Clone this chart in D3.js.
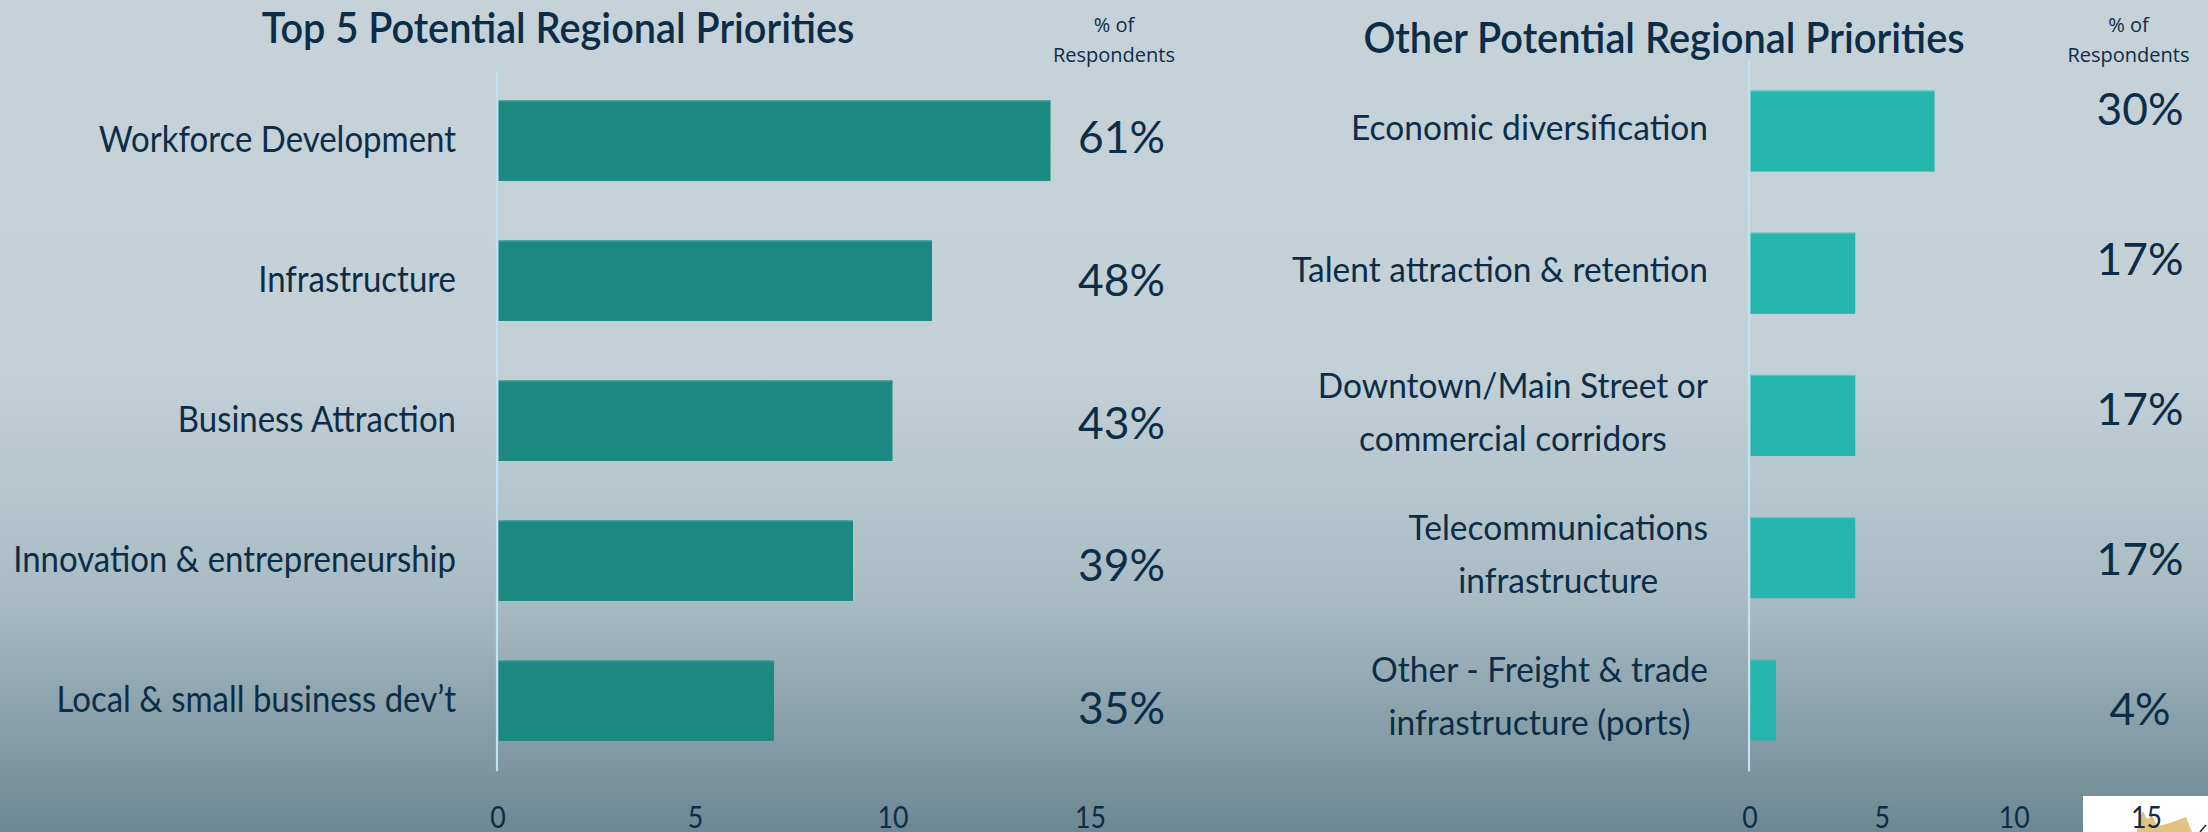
<!DOCTYPE html>
<html>
<head>
<meta charset="utf-8">
<script src="https://cdn.jsdelivr.net/npm/d3@7"></script>
<style>
  html, body { margin: 0; padding: 0; overflow: hidden; }
  svg { display: block; }
</style>
</head>
<body>
<svg id="chart" width="2208" height="832"></svg>
<script>
// ---------------- DATA ----------------
const leftTitle = "Top 5 Potential Regional Priorities";
const rightTitle = "Other Potential Regional Priorities";
const respLabel = ["% of", "Respondents"];

const leftCategories = [
  ["Workforce Development"],
  ["Infrastructure"],
  ["Business Attraction"],
  ["Innovation & entrepreneurship"],
  ["Local & small business dev\u2019t"]
];
const leftValues = [14, 11, 10, 9, 7];
const leftPct = ["61%", "48%", "43%", "39%", "35%"];

const rightCategories = [
  ["Economic diversification"],
  ["Talent attraction & retention"],
  ["Downtown/Main Street or", "commercial corridors"],
  ["Telecommunications", "infrastructure"],
  ["Other - Freight & trade", "infrastructure (ports)"]
];
const rightValues = [7, 4, 4, 4, 1];
const rightPct = ["30%", "17%", "17%", "17%", "4%"];

const xTicks = [0, 5, 10, 15];

// ---------------- SETUP ----------------
const W = 2208, H = 832;
const svg = d3.select("#chart");
const ink = "#0c2d48";
const FONT = "Lato, 'Open Sans', sans-serif";

const defs = svg.append("defs");
const grad = defs.append("linearGradient").attr("id", "bg").attr("x1", 0).attr("y1", 0).attr("x2", 0).attr("y2", 1);
[[0, "#c5d2d8"], [0.44, "#c3d1d7"], [0.72, "#a8bbc3"], [1, "#6c8894"]].forEach(s =>
  grad.append("stop").attr("offset", s[0]).attr("stop-color", s[1]));
svg.append("rect").attr("width", W).attr("height", H).attr("fill", "url(#bg)");

function measure(str, font) {
  const t = svg.append("text").style("font", font).text(str);
  const w = t.node().getComputedTextLength();
  t.remove();
  return w;
}

const fLabel = `400 36px ${FONT}`;
const fLabelR = `400 34px ${FONT}`;
const fTitle = `700 42px ${FONT}`;
const fPct = `400 44px ${FONT}`;
const fTick = `400 30px ${FONT}`;
const fResp = `400 20px 'Open Sans', sans-serif`;

const kLabel = 443 / measure("Innovation & entrepreneurship", fLabel);
const kLabelR = 416 / measure("Talent attraction & retention", fLabelR);
const kTitleL = 598 / measure(leftTitle, fTitle);
const kTitleR = 607 / measure(rightTitle, fTitle);
const kPct = 87 / measure("48%", fPct);
const kTick = 31 / measure("10", fTick);

function scaledText(g, str, x, y, font, k, anchor) {
  return g.append("text")
    .attr("transform", `translate(${x},${y}) scale(${k},1)`)
    .attr("text-anchor", anchor)
    .style("font", font)
    .attr("fill", ink)
    .text(str);
}

// ---------------- PANELS ----------------
function panel(cfg) {
  const g = svg.append("g");
  const names = cfg.categories.map(c => c.join(" "));
  const x = d3.scaleLinear().domain([0, 15]).range(cfg.xRange);
  const y = d3.scaleBand().domain(names).range(cfg.yRange)
    .paddingInner(cfg.pad).paddingOuter(cfg.pad / 2);
  const yPct = d3.scalePoint().domain(names).range(cfg.pctRange);

  // title
  scaledText(g, cfg.title, cfg.titleX, cfg.titleY, fTitle, cfg.kTitle, "middle")
    .style("font-weight", 600);

  // % of respondents
  respLabel.forEach((s, i) =>
    g.append("text").attr("x", cfg.respX).attr("y", 31.7 + i * 30)
      .attr("text-anchor", "middle").style("font", fResp).attr("fill", ink).text(s));

  // logo box (under ticks)
  if (cfg.logo) cfg.logo(g);

  // bars
  g.selectAll("rect.bar").data(cfg.values).join("rect")
    .attr("class", "bar")
    .attr("x", x(0) + 1)
    .attr("y", (d, i) => y(names[i]))
    .attr("width", d => x(d) - x(0) - 1)
    .attr("height", y.bandwidth())
    .attr("fill", cfg.color);
  g.selectAll("line.top").data(cfg.values).join("line")
    .attr("class", "top")
    .attr("x1", x(0) + 1).attr("x2", d => x(d))
    .attr("y1", (d, i) => y(names[i]) + 0.5).attr("y2", (d, i) => y(names[i]) + 0.5)
    .attr("stroke", cfg.edge).attr("stroke-width", 1.2);

  // vertical axis line
  const ax = g.append("g").attr("transform", `translate(${x(0) - 1},0)`)
    .call(d3.axisLeft(y).tickSize(0).tickSizeOuter(0).tickFormat(""));
  ax.select(".domain").attr("stroke", "#bfe3f5").attr("stroke-width", 2.2);
  ax.selectAll(".tick").remove();

  // x axis tick labels
  const xa = g.append("g").attr("transform", `translate(0,${cfg.tickY})`)
    .call(d3.axisBottom(x).tickValues(xTicks).tickSize(0).tickFormat(d3.format("d")));
  xa.select(".domain").remove();
  xa.selectAll(".tick text")
    .attr("y", 0).attr("dy", 0)
    .attr("transform", `scale(${kTick},1)`)
    .style("font", fTick).attr("fill", ink);

  // category labels
  cfg.categories.forEach((lines, i) => {
    const c = y(names[i]) + y.bandwidth() / 2;
    if (lines.length === 1) {
      scaledText(g, lines[0], cfg.labelRight, c + cfg.labelDy, cfg.labelFont, cfg.kLab, "end");
    } else {
      const maxW = d3.max(lines, s => measure(s, cfg.labelFont)) * cfg.kLab;
      const cx = cfg.labelRight - maxW / 2;
      lines.forEach((s, j) =>
        scaledText(g, s, cx, c - 17.5 + j * 52.5, cfg.labelFont, cfg.kLab, "middle"));
    }
  });

  // percent labels
  cfg.pct.forEach((p, i) =>
    scaledText(g, p, cfg.pctX, yPct(names[i]), fPct, kPct, cfg.pctAnchor));
}

panel({
  title: leftTitle, titleX: 558, titleY: 43.3, kTitle: kTitleL,
  respX: 1114,
  categories: leftCategories, values: leftValues, pct: leftPct,
  xRange: [497.5, 1090], yRange: [70.7, 770.7], pad: 0.425,
  pctRange: [153.3, 724], pctX: 1078, pctAnchor: "start",
  color: "#1b8882", edge: "#4aa39e",
  tickY: 828, labelRight: 456, labelDy: 11.5, labelFont: fLabel, kLab: kLabel
});

panel({
  title: rightTitle, titleX: 1664, titleY: 53.3, kTitle: kTitleR,
  respX: 2128.5,
  categories: rightCategories, values: rightValues, pct: rightPct,
  xRange: [1749.5, 2146], yRange: [60, 771], pad: 0.43,
  pctRange: [125, 725], pctX: 2140, pctAnchor: "middle",
  color: "#24b5ad", edge: "#5cc6c0",
  tickY: 828, labelRight: 1708, labelDy: 9, labelFont: fLabelR, kLab: kLabelR,
  logo: g => {
    g.append("rect").attr("x", 2083).attr("y", 796).attr("width", 125).attr("height", 36).attr("fill", "#ffffff");
    g.append("polygon")
      .attr("points", "2137,832 2139,818 2143,811 2147,819 2152,816 2158,826 2170,823 2186,817 2192,832")
      .attr("fill", "#e2c27e");
    g.append("line").attr("x1", 2200).attr("y1", 832).attr("x2", 2206).attr("y2", 825)
      .attr("stroke", "#222").attr("stroke-width", 1.5);
  }
});
</script>
</body>
</html>
